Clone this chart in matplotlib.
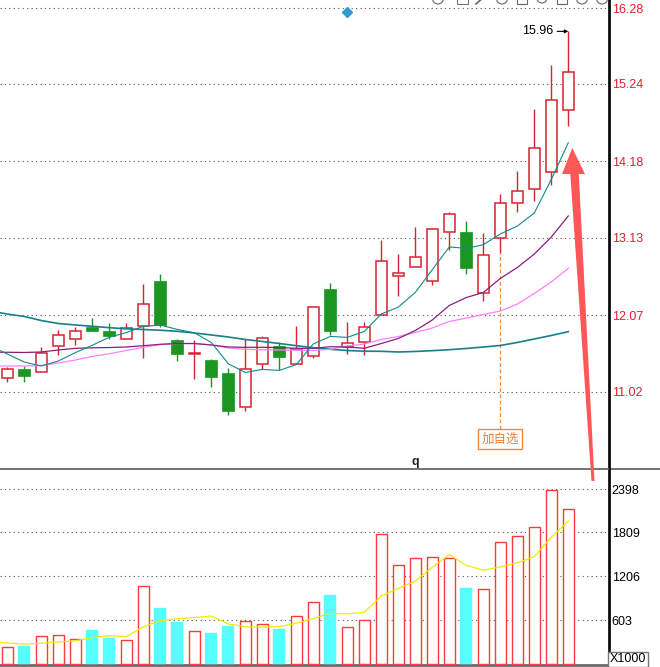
import matplotlib
matplotlib.use("Agg")
import matplotlib.pyplot as plt
from matplotlib.patches import Polygon, Rectangle, Circle
import numpy as np

plt.rcParams['font.family'] = ['Liberation Sans', 'Noto Sans CJK SC', 'DejaVu Sans']

# candles
opens = [11.21, 11.34, 11.29, 11.65, 11.74, 11.91, 11.86, 11.74, 11.92, 12.54,
         11.73, 11.54, 11.46, 11.28, 10.81, 11.41, 11.65, 11.40, 11.51, 12.43,
         11.64, 11.70, 12.07, 12.61, 12.73, 12.54, 13.21, 13.21, 12.37, 13.13,
         13.61, 13.80, 14.04, 14.88]
closes = [11.34, 11.24, 11.56, 11.80, 11.85, 11.85, 11.79, 11.89, 12.22, 11.94,
          11.54, 11.56, 11.22, 10.76, 11.34, 11.76, 11.50, 11.61, 12.18, 11.86,
          11.69, 11.91, 12.81, 12.65, 12.87, 13.25, 13.46, 12.72, 12.89, 13.61,
          13.78, 14.36, 15.02, 15.40]
highs = [11.36, 11.37, 11.64, 11.87, 11.91, 12.03, 11.96, 11.96, 12.50, 12.64,
         11.75, 11.73, 11.47, 11.35, 11.74, 11.79, 11.70, 11.92, 12.18, 12.51,
         11.98, 11.98, 13.10, 12.91, 13.28, 13.26, 13.49, 13.36, 13.20, 13.73,
         14.05, 14.90, 15.50, 15.96]
lows = [11.16, 11.16, 11.29, 11.53, 11.67, 11.85, 11.74, 11.74, 11.49, 11.91,
        11.44, 11.20, 11.09, 10.70, 10.76, 11.34, 11.32, 11.40, 11.48, 11.80,
        11.54, 11.53, 12.07, 12.33, 12.73, 12.48, 12.96, 12.63, 12.26, 12.92,
        13.48, 13.63, 13.85, 14.66]
volumes = [233, 251, 384, 397, 343, 470, 360, 329, 1069, 772,
           584, 452, 429, 525, 589, 552, 484, 658, 850, 950,
           507, 603, 1782, 1357, 1453, 1466, 1457, 1046, 1028, 1672,
           1754, 1878, 2385, 2124]

# moving averages, first value is the day before the window
ma5 = [11.650, 11.540, 11.430, 11.376, 11.444, 11.559, 11.660, 11.769, 11.834,
       11.919, 11.937, 11.877, 11.832, 11.698, 11.407, 11.287, 11.329, 11.316,
       11.395, 11.678, 11.781, 11.768, 11.849, 12.089, 12.182, 12.384, 12.696,
       13.006, 12.988, 13.037, 13.185, 13.292, 13.472, 13.932, 14.434]
ma10 = [11.564, 11.564, 11.561, 11.568, 11.595, 11.618, 11.625, 11.629, 11.636,
        11.654, 11.673, 11.684, 11.684, 11.664, 11.636, 11.632, 11.632, 11.629,
        11.618, 11.618, 11.640, 11.636, 11.618, 11.684, 11.753, 11.862, 12.006,
        12.205, 12.314, 12.383, 12.575, 12.725, 12.910, 13.143, 13.431]
ma20 = [11.376, 11.376, 11.376, 11.383, 11.417, 11.458, 11.506, 11.544, 11.588,
        11.632, 11.670, 11.684, 11.684, 11.664, 11.623, 11.605, 11.598, 11.595,
        11.591, 11.588, 11.605, 11.650, 11.677, 11.739, 11.780, 11.835, 11.896,
        11.985, 12.033, 12.081, 12.129, 12.225, 12.369, 12.527, 12.714]
ma60 = [12.129, 12.088, 12.054, 11.999, 11.958, 11.938, 11.920, 11.901, 11.885,
        11.876, 11.866, 11.851, 11.828, 11.801, 11.773, 11.739, 11.712, 11.684,
        11.654, 11.627, 11.605, 11.588, 11.579, 11.577, 11.568, 11.575, 11.586,
        11.599, 11.616, 11.636, 11.657, 11.698, 11.746, 11.794, 11.846]
vol_ma5 = [312, 292, 278, 288, 306, 322, 369, 391, 380, 514, 600, 623, 641, 661,
           552, 516, 509, 516, 562, 627, 699, 690, 714, 938, 1040, 1140, 1332,
           1503, 1356, 1290, 1334, 1391, 1476, 1743, 1963]

price_ticks = [11.02, 12.07, 13.13, 14.18, 15.24, 16.28]
price_labels = ["11.02", "12.07", "13.13", "14.18", "15.24", "16.28"]
vol_ticks = [603, 1206, 1809, 2398]
vol_labels = ["603", "1206", "1809", "2398"]

high_label = "15.96"
watch_label = "加自选"
watch_day = 29
marker_day = 20
marker_price = 16.225

W, H = 660, 667
RED = '#d42530'
GREEN = '#1b9620'
VRED = '#ff3838'
CYAN = '#55ffff'
GRID = dict(linestyle=(0, (1, 3)), color='#555555', linewidth=0.8)

fig = plt.figure(figsize=(W / 100, H / 100), dpi=100)
fig.patch.set_facecolor('white')

ax = fig.add_axes([0, 1 - 468 / H, 609 / W, 468 / H])
vax = fig.add_axes([0, 1 - 665 / H, 609 / W, 196 / H])

n = len(closes)
x = np.arange(n)
xm = np.arange(-1, n)
xlim = (-7.3 / 17, (609 - 7.3) / 17)

# price panel
for i in range(n):
    o, c, h, l = opens[i], closes[i], highs[i], lows[i]
    lo_b, hi_b = min(o, c), max(o, c)
    if c >= o:
        ax.vlines(i, hi_b, h, color=RED, lw=1.0, zorder=3)
        ax.vlines(i, l, lo_b, color=RED, lw=1.0, zorder=3)
        ax.bar(i, max(hi_b - lo_b, 0.02), bottom=lo_b, width=0.68,
               facecolor='white', edgecolor=RED, lw=1.1, zorder=3)
    else:
        ax.vlines(i, l, h, color=GREEN, lw=1.0, zorder=3)
        ax.bar(i, hi_b - lo_b, bottom=lo_b, width=0.72,
               facecolor=GREEN, edgecolor=GREEN, lw=0.5, zorder=3)

ax.plot(xm, ma60, color='#17808a', lw=1.2, zorder=4)
ax.plot(xm, ma20, color='#ff80ff', lw=0.9, zorder=4)
ax.plot(xm, ma10, color='#8a1f7c', lw=0.9, zorder=4)
ax.plot(xm, ma5, color='#128a8a', lw=0.8, zorder=4)

ax.set_xlim(*xlim)
ax.set_ylim(16.28 - 460 / 73, 16.28 + 8 / 73)
ax.set_yticks(price_ticks)
ax.set_yticklabels(price_labels)
ax.yaxis.tick_right()
ax.tick_params(axis='y', length=0, pad=2, labelsize=9, labelcolor='#e0202c')
ax.set_xticks([])
ax.grid(axis='y', **GRID)
ax.set_axisbelow(True)
for s in ['left', 'top', 'bottom']:
    ax.spines[s].set_visible(False)
ax.spines['right'].set_color('black')
ax.spines['right'].set_linewidth(1.2)

# highest price mark
ax.annotate(high_label, xy=(n - 1, highs[-1]), xytext=(-11, 0),
            textcoords='offset points', ha='right', va='center', fontsize=9,
            arrowprops=dict(arrowstyle='-|>', color='black', lw=0.8,
                            shrinkA=1, shrinkB=0, mutation_scale=5))

# watch-list tag with dashed guide
ax.vlines(watch_day, 16.28 - 421 / 73, lows[watch_day], color='#f08c3c',
          lw=0.9, linestyle=(0, (3, 2)), zorder=2)
ax.text(watch_day, 16.28 - 431 / 73, watch_label, ha='center', va='center',
        fontsize=9, color='#f08030', family=['Noto Sans CJK SC', 'DejaVu Sans'],
        bbox=dict(boxstyle='square,pad=0.25', fc='white', ec='#f08c3c', lw=1.0))

ax.plot(marker_day, marker_price, marker='D', ms=5, color='#2f9bd0',
        mec='#2f9bd0', zorder=5, clip_on=False)

# volume panel
for i in range(n):
    if closes[i] >= opens[i]:
        vax.bar(i, volumes[i], width=0.66, facecolor='white', edgecolor=VRED,
                lw=1.0, zorder=3)
    else:
        vax.bar(i, volumes[i], width=0.7, facecolor=CYAN, edgecolor=CYAN,
                lw=0.3, zorder=3)
vax.plot(xm, vol_ma5, color='#f0ec00', lw=0.9, zorder=4)

vax.set_xlim(*xlim)
vax.set_ylim(-0.7 * 603 / 44, 195.3 * 603 / 44)
vax.set_yticks(vol_ticks)
vax.set_yticklabels(vol_labels)
vax.yaxis.tick_right()
vax.tick_params(axis='y', length=0, pad=2, labelsize=9, labelcolor='black')
vax.set_xticks([])
vax.grid(axis='y', **GRID)
vax.set_axisbelow(True)
for s in ['left', 'top']:
    vax.spines[s].set_visible(False)
vax.spines['right'].set_color('black')
vax.spines['right'].set_linewidth(1.2)
vax.spines['bottom'].set_color('#6a6a6a')
vax.spines['bottom'].set_linewidth(2)

# overlay in pixel coordinates for the decorations
ov = fig.add_axes([0, 0, 1, 1])
ov.set_xlim(0, W)
ov.set_ylim(H, 0)
ov.axis('off')
ov.patch.set_alpha(0)

ov.plot([0, W], [469, 469], color='#666666', lw=1.3)
ov.plot([609.5, 609.5], [0, H], color='black', lw=1.2)
ov.text(415, 462, 'q', ha='center', va='center', fontsize=9,
        fontweight='bold', color='#222222')
ov.text(628, 659, 'X1000', ha='center', va='center', fontsize=9,
        bbox=dict(boxstyle='square,pad=0.12', fc='white', ec='#777777', lw=1))

arrow = Polygon([(572.3, 148), (585, 174), (578.8, 174), (594.5, 481),
                 (591.5, 481), (570.3, 174), (562, 174)],
                closed=True, fc='#ff5757', ec='none', zorder=10)
ov.add_patch(arrow)

# toolbar icons cut at the top edge
for cx in [438, 502, 582, 602]:
    ov.add_patch(Circle((cx, -1.5), 5.5, fill=False, ec='#666666', lw=0.8))
for cx in [522, 562]:
    ov.add_patch(Rectangle((cx - 5, -8), 10, 12, fill=False, ec='#666666', lw=0.8))
ov.add_patch(Circle((542, -2), 5, fill=False, ec='#666666', lw=0.8))
ov.add_patch(Rectangle((457, -6), 11, 10, fill=False, ec='#777777', lw=0.8))
ov.plot([476, 485], [4, -4], color='#666666', lw=1.2)

fig.savefig('out.png', dpi=100)
